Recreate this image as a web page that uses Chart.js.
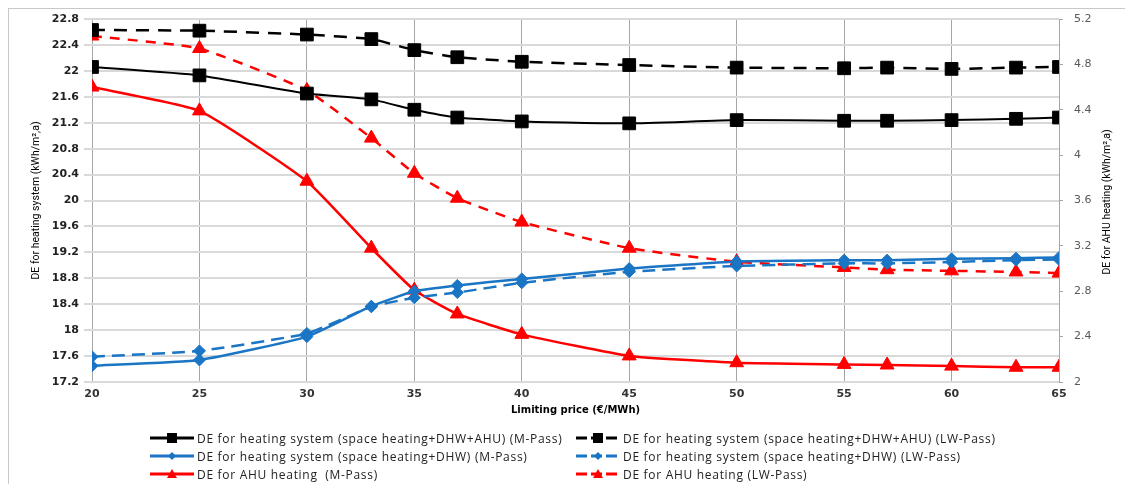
<!DOCTYPE html>
<html>
<head>
<meta charset="utf-8">
<script src="https://cdn.jsdelivr.net/npm/chart.js@4.4.1/dist/chart.umd.min.js"></script>
<style>
  html, body { margin: 0; padding: 0; background: #fff; }
  #wrap { position: relative; width: 1125px; height: 484px; overflow: hidden; }
  #frame { position: absolute; left: 8px; top: 8px; width: 1130px; height: 490px;
           border-left: 1px solid #c8c8c8; border-top: 1px solid #c8c8c8; }
  #chart { position: absolute; left: 0; top: 0; }
  .leg { position: absolute; height: 16px; display: flex; align-items: center;
         font: 12px "Open Sans", sans-serif; letter-spacing: 0.7px; color: #222; white-space: pre; }
  .leg svg { margin-right: 3px; }
</style>
</head>
<body>
<div id="wrap">
  <div id="frame"></div>
  <canvas id="chart" width="1125" height="484"></canvas>
  <div id="legend"></div>
</div>
<script>
// limiting price (€/MWh)
const prices = [20, 25, 30, 33, 35, 37, 40, 45, 50, 55, 57, 60, 63, 65];

// left axis – DE for heating system (kWh/m2,a)
const sysAhuM  = [22.06, 21.93, 21.65, 21.56, 21.40, 21.28, 21.22, 21.19, 21.24, 21.23, 21.23, 21.24, 21.26, 21.28];
const sysAhuLW = [22.63, 22.62, 22.56, 22.49, 22.32, 22.21, 22.14, 22.09, 22.05, 22.04, 22.05, 22.03, 22.05, 22.06];
const sysM     = [17.45, 17.54, 17.90, 18.37, 18.60, 18.69, 18.79, 18.95, 19.06, 19.08, 19.08, 19.10, 19.11, 19.12];
const sysLW    = [17.59, 17.68, 17.95, 18.36, 18.50, 18.58, 18.73, 18.90, 18.99, 19.03, 19.03, 19.05, 19.08, 19.09];

// right axis – DE for AHU heating (kWh/m2,a)
const ahuM  = [4.60, 4.39, 3.77, 3.18, 2.81, 2.60, 2.42, 2.23, 2.17, 2.155, 2.15, 2.14, 2.13, 2.13];
const ahuLW = [5.05, 4.94, 4.57, 4.15, 3.84, 3.62, 3.41, 3.18, 3.06, 3.01, 2.99, 2.98, 2.97, 2.96];

const labels = [
  "DE for heating system (space heating+DHW+AHU) (M-Pass)",
  "DE for heating system (space heating+DHW+AHU) (LW-Pass)",
  "DE for heating system (space heating+DHW) (M-Pass)",
  "DE for heating system (space heating+DHW) (LW-Pass)",
  "DE for AHU heating  (M-Pass)",
  "DE for AHU heating (LW-Pass)"
];

const BLACK = "#000000", BLUE = "#1a75c4", RED = "#ff0000";

function pts(ys) { return ys.map((y, i) => ({ x: prices[i], y: y })); }

function ds(label, ys, color, dash, style, radius, width, axis) {
  return {
    label: label,
    data: pts(ys),
    yAxisID: axis,
    borderColor: color,
    backgroundColor: color,
    borderWidth: width,
    borderDash: dash,
    pointStyle: style,
    pointRadius: radius,
    pointBorderWidth: 1,
    pointBorderColor: color,
    pointBackgroundColor: color,
    tension: 0.15,
    _dash: dash
  };
}

const datasets = [
  ds(labels[0], sysAhuM,  BLACK, [],      "rect",     9, 2,   "y"),
  ds(labels[1], sysAhuLW, BLACK, [13, 9], "rect",     9, 2.5, "y"),
  ds(labels[2], sysM,     BLUE,  [],      "rectRot",  6, 2.5, "y"),
  ds(labels[3], sysLW,    BLUE,  [13, 7], "rectRot",  6, 2.5, "y"),
  ds(labels[4], ahuM,     RED,   [],      "triangle", 8, 2.5, "y1"),
  ds(labels[5], ahuLW,    RED,   [10, 8], "triangle", 8, 2.5, "y1")
];

// right axis title reads bottom-to-top, draw it ourselves
const rightTitle = {
  id: "rightTitle",
  afterDraw(chart) {
    const c = chart.ctx;
    c.save();
    c.translate(1107, 202);
    c.rotate(-Math.PI / 2);
    c.font = "10.5px Roboto, sans-serif";
    c.fillStyle = "#000";
    c.textAlign = "center";
    c.textBaseline = "middle";
    c.fillText("DE for AHU heating (kWh/m\u00B2,a)", 0, 0);
    c.restore();
  }
};

const tickFmt = v => String(+v.toFixed(1));

const chart = new Chart(document.getElementById("chart"), {
  type: "line",
  data: { datasets: datasets },
  options: {
    responsive: false,
    animation: false,
    layout: { padding: { top: 19, left: 0, right: 0, bottom: 62 } },
    plugins: { legend: { display: false }, tooltip: { enabled: false } },
    scales: {
      x: {
        type: "linear", min: 20, max: 65,
        afterFit: s => { s.height = 40; },
        ticks: { stepSize: 5, padding: 6, color: "#333",
                 font: { family: "DejaVu Sans", size: 11, weight: "bold" } },
        grid: { color: "#a6a6a6", lineWidth: 1, drawTicks: false },
        border: { display: false },
        title: { display: true, text: "Limiting price (\u20AC/MWh)", color: "#000",
                 font: { family: "DejaVu Sans", size: 10, weight: "bold" },
                 padding: { top: 0, bottom: 6 } }
      },
      y: {
        position: "left", min: 17.2, max: 22.8,
        afterFit: s => { s.width = 92; },
        ticks: { stepSize: 0.4, padding: 5, color: "#222", callback: tickFmt,
                 font: { family: "DejaVu Sans", size: 11, weight: "bold" } },
        grid: { color: "#d9d9d9", lineWidth: 2, tickLength: 8 },
        border: { display: false },
        title: { display: true, text: "DE for heating system (kWh/m\u00B2,a)", color: "#000",
                 font: { family: "Roboto", size: 10.5 },
                 padding: { top: 30, bottom: 0 } }
      },
      y1: {
        position: "right", min: 2, max: 5.2,
        afterFit: s => { s.width = 66; },
        ticks: { stepSize: 0.4, padding: 11, color: "#595959", callback: tickFmt,
                 font: { family: "DejaVu Sans", size: 11 } },
        grid: { drawOnChartArea: false, color: "#a6a6a6", tickLength: 4 },
        border: { display: false }
      }
    }
  },
  plugins: [rightTitle]
});

// legend in two columns, built from the datasets
function icon(d) {
  const c = d.borderColor, w = 44, m = w / 2, y = 8;
  let mk = "";
  if (d.pointStyle === "rect") mk = `<rect x="${m - 5}" y="${y - 5}" width="10" height="10" fill="${c}"/>`;
  else if (d.pointStyle === "rectRot") mk = `<polygon points="${m},${y - 4} ${m + 4},${y} ${m},${y + 4} ${m - 4},${y}" fill="${c}"/>`;
  else mk = `<polygon points="${m},${y - 5} ${m + 5},${y + 4} ${m - 5},${y + 4}" fill="${c}"/>`;
  const dash = d._dash.length ? `stroke-dasharray="11 4"` : "";
  return `<svg width="${w}" height="16"><line x1="0" y1="${y}" x2="${w}" y2="${y}" stroke="${c}" stroke-width="3" ${dash}/>${mk}</svg>`;
}
const legendEl = document.getElementById("legend");
const colX = [150, 576], rowY = [430, 448, 466];
datasets.forEach((d, i) => {
  const el = document.createElement("div");
  el.className = "leg";
  el.style.left = colX[i % 2] + "px";
  el.style.top = rowY[Math.floor(i / 2)] + "px";
  el.innerHTML = icon(d) + `<span>${d.label}</span>`;
  legendEl.appendChild(el);
});
</script>
</body>
</html>
